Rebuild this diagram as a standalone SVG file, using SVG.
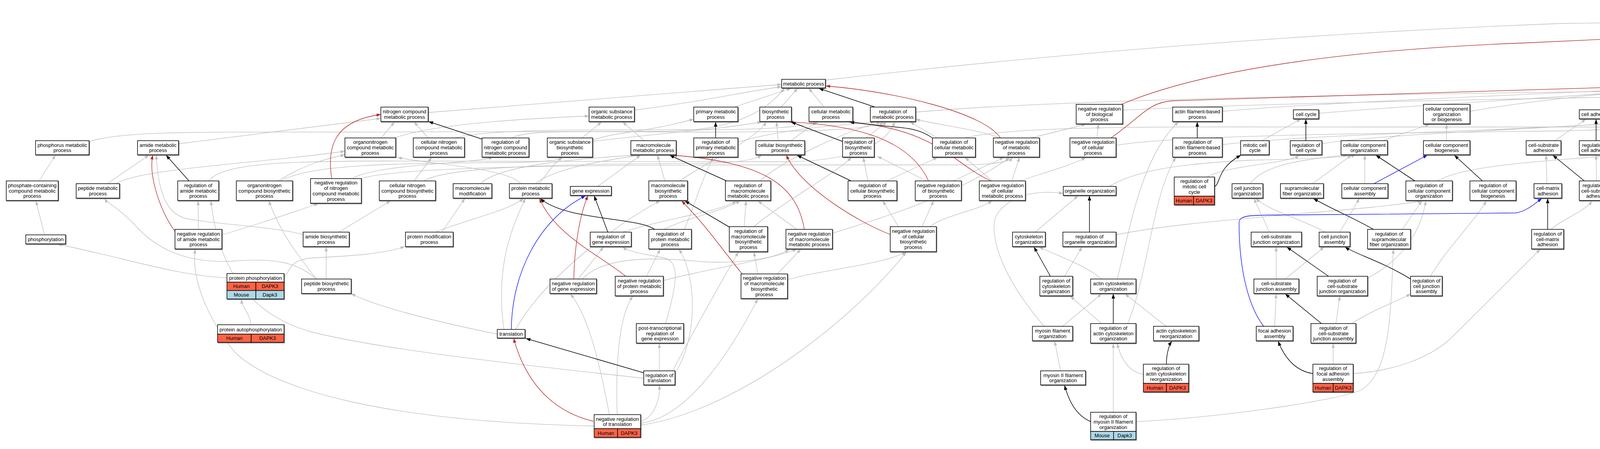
<svg xmlns="http://www.w3.org/2000/svg" width="7383" height="1149" viewBox="0 0 7383 1149">
<style>
.n rect{fill:#fff;stroke:#000;stroke-width:1.5;filter:url(#sh)}
.n rect.hu{fill:#FF6347}
.n rect.mo{fill:#ADD8E6}
.n rect.ra{fill:#FFD700}
text{font-family:"Liberation Sans",Arial,Helvetica,sans-serif;font-size:13px;text-anchor:middle;fill:#000}
#E path{fill:none;stroke-width:1.3}
#E .e{stroke:#BEBEBE;marker-end:url(#mg)}
#E .k{stroke:#000;stroke-width:1.5;marker-end:url(#mk)}
#E .r{stroke:#B22222;marker-end:url(#mr)}
#E .g{stroke:#228B22;marker-end:url(#mn)}
#E .b{stroke:#0000FF;marker-end:url(#mb)}
</style>
<defs>
<filter id="sh" x="-10%" y="-10%" width="125%" height="140%"><feDropShadow dx="1.2" dy="1.6" stdDeviation="0.4" flood-color="#555" flood-opacity="0.9"/></filter>
<marker id="mg" viewBox="0 0 11 8" refX="11" refY="4" markerWidth="11" markerHeight="8" markerUnits="userSpaceOnUse" orient="auto"><path d="M0,0L11,4L0,8z" fill="#BEBEBE"/></marker>
<marker id="mk" viewBox="0 0 11 8" refX="11" refY="4" markerWidth="12" markerHeight="9" markerUnits="userSpaceOnUse" orient="auto"><path d="M0,0L11,4L0,8z" fill="#000"/></marker>
<marker id="mr" viewBox="0 0 11 8" refX="11" refY="4" markerWidth="11" markerHeight="8" markerUnits="userSpaceOnUse" orient="auto"><path d="M0,0L11,4L0,8z" fill="#B22222"/></marker>
<marker id="mn" viewBox="0 0 11 8" refX="11" refY="4" markerWidth="11" markerHeight="8" markerUnits="userSpaceOnUse" orient="auto"><path d="M0,0L11,4L0,8z" fill="#228B22"/></marker>
<marker id="mb" viewBox="0 0 11 8" refX="11" refY="4" markerWidth="11" markerHeight="8" markerUnits="userSpaceOnUse" orient="auto"><path d="M0,0L11,4L0,8z" fill="#0000FF"/></marker>
</defs>
<rect x="0" y="0" width="7383" height="1149" fill="#fff"/>
<g id="E">
<path class="e" d="M1096,288 L2001,216"/>
<path class="e" d="M228,362 C320,335 500,338 900,338 L1700,336 C1850,335 1950,300 2008,226"/>
<path class="e" d="M457,368 L975,303"/>
<path class="e" d="M976,353 L1010,312"/>
<path class="e" d="M1010,353 C1100,320 1300,305 1508,297"/>
<path class="e" d="M1096,353 L1060,312"/>
<path class="e" d="M1165,353 C1250,330 1500,332 1800,332 C1950,332 2060,325 2095,312"/>
<path class="e" d="M1310,353 C1350,330 1500,338 1800,338 C2100,338 2240,330 2262,312"/>
<path class="e" d="M100,463 L142,397"/>
<path class="e" d="M275,470 L381,397"/>
<path class="e" d="M297,470 C360,430 700,415 883,387"/>
<path class="e" d="M534,463 C570,420 700,412 1000,412 L2000,414 C2200,414 2275,360 2290,312"/>
<path class="e" d="M712,463 C780,420 840,405 883,396"/>
<path class="e" d="M717,463 C800,420 1000,418 1300,416 C1400,415 1430,410 1440,403"/>
<path class="e" d="M902,457 C960,420 1200,420 1262,403"/>
<path class="e" d="M915,460 C1000,425 1500,422 2000,422 L2450,422 C2560,422 2585,412 2592,403"/>
<path class="e" d="M1060,463 L1105,403"/>
<path class="e" d="M1085,463 C1150,422 1500,420 1800,418 C1900,417 1935,407 1950,397"/>
<path class="e" d="M1230,470 C1280,420 1500,405 1625,397"/>
<path class="e" d="M114,601 L92,514"/>
<path class="e" d="M508,587 L507,514"/>
<path class="e" d="M568,601 C640,580 700,560 815,521"/>
<path class="e" d="M776,600 C700,580 560,575 480,560 C430,550 405,500 400,397"/>
<path class="e" d="M867,594 L1000,514"/>
<path class="e" d="M810,714 C760,650 720,600 688,514"/>
<path class="e" d="M810,714 C760,670 700,660 600,668 C480,675 400,640 340,570 C300,530 275,520 268,508"/>
<path class="e" d="M1131,594 L1190,508"/>
<path class="e" d="M1115,594 C1200,560 1300,540 1340,508"/>
<path class="e" d="M581,711 C450,705 320,660 148,625"/>
<path class="e" d="M727,710 C745,690 740,665 800,660 C900,655 980,650 1036,631"/>
<path class="e" d="M835,714 L835,632"/>
<path class="e" d="M642,831 C640,800 620,790 618,766"/>
<path class="e" d="M1623,282 C1800,260 1900,235 2001,222"/>
<path class="e" d="M1880,274 L2025,226"/>
<path class="e" d="M2000,274 L2042,226"/>
<path class="e" d="M2110,274 L2070,226"/>
<path class="e" d="M1490,353 L1540,312"/>
<path class="e" d="M1515,362 C1700,340 1850,330 1950,312"/>
<path class="e" d="M1649,360 L1594,312"/>
<path class="e" d="M1992,360 L1988,312"/>
<path class="e" d="M2025,360 L2090,312"/>
<path class="e" d="M1889,364 C2000,330 2150,320 2240,312"/>
<path class="e" d="M2217,353 L2270,312"/>
<path class="e" d="M2400,353 L2330,312"/>
<path class="e" d="M2344,287 C2700,255 3500,240 4500,230 L5519,217"/>
<path class="e" d="M2470,353 C2600,320 3000,325 3500,325 L4100,325 C4160,325 4180,318 4190,312"/>
<path class="e" d="M1370,470 C1420,430 1550,410 1640,397"/>
<path class="e" d="M1333,470 C1300,430 1100,420 1018,403"/>
<path class="e" d="M1380,470 C1420,420 1450,360 1600,340 C1700,325 1740,315 1776,305"/>
<path class="e" d="M1530,477 L1640,397"/>
<path class="e" d="M1702,463 L1683,397"/>
<path class="e" d="M1740,463 C1800,420 1930,360 1962,312"/>
<path class="e" d="M1946,463 C2000,410 2180,330 2255,312"/>
<path class="e" d="M2222,463 L2210,403"/>
<path class="e" d="M2270,463 L2400,403"/>
<path class="e" d="M2372,463 L2246,400"/>
<path class="e" d="M2440,463 L2570,403"/>
<path class="e" d="M1594,594 C1700,560 1850,540 1885,514"/>
<path class="e" d="M1700,587 C1750,560 1850,540 1895,514"/>
<path class="e" d="M1752,587 C1780,520 1800,450 1826,403"/>
<path class="e" d="M1905,580 L1910,514"/>
<path class="e" d="M1930,580 C2000,520 2130,450 2180,403"/>
<path class="e" d="M2040,587 L1940,514"/>
<path class="e" d="M2131,597 C2250,560 2450,500 2585,403"/>
<path class="e" d="M2300,580 L2260,514"/>
<path class="e" d="M2360,580 L2390,514"/>
<path class="e" d="M2380,580 C2420,550 2500,540 2540,514"/>
<path class="e" d="M1480,714 L1545,632"/>
<path class="e" d="M1491,714 C1550,650 1700,660 1800,670 C1900,675 1990,660 2020,638"/>
<path class="e" d="M1655,707 L1690,638"/>
<path class="e" d="M1698,718 C1800,690 1950,670 2040,638"/>
<path class="e" d="M1940,701 L1930,645"/>
<path class="e" d="M1990,701 L2050,638"/>
<path class="e" d="M2016,716 C2100,690 2250,680 2320,645"/>
<path class="e" d="M1704,828 C1735,720 1740,670 1700,660 C1650,650 1610,645 1594,632"/>
<path class="e" d="M1688,949 L1688,879"/>
<path class="e" d="M1648,968 C1400,940 1000,900 800,850 C650,810 560,700 540,514"/>
<path class="e" d="M1732,949 C1790,850 1780,700 1738,638"/>
<path class="e" d="M1722,949 C1800,800 1860,700 1890,645"/>
<path class="e" d="M1640,1078 C1670,1070 1690,1030 1688,986"/>
<path class="e" d="M1560,1061 C1530,900 1500,800 1460,752"/>
<path class="e" d="M1580,1061 C1575,900 1590,800 1620,758"/>
<path class="e" d="M1640,1083 C1760,1070 1870,900 1940,765"/>
<path class="e" d="M1640,1088 C1900,1050 2200,800 2320,645"/>
<path class="e" d="M1521,1090 C1000,1080 700,1000 600,900 C520,800 490,700 500,638"/>
<path class="e" d="M1273,855 C1100,820 950,780 899,751"/>
<path class="e" d="M1290,843 C1270,700 1300,600 1345,508"/>
<path class="e" d="M1320,843 C1400,700 1600,560 1690,514"/>
<path class="e" d="M2874,282 C3300,260 4200,248 5519,223"/>
<path class="e" d="M2560,353 C2500,330 2400,320 2344,305"/>
<path class="e" d="M2640,353 L2780,318"/>
<path class="e" d="M2808,353 L2812,318"/>
<path class="e" d="M2857,372 C3000,345 3600,340 4000,335 C4150,332 4200,325 4210,312"/>
<path class="e" d="M2590,463 L2610,403"/>
<path class="e" d="M2610,463 C2680,440 2750,420 2780,403"/>
<path class="e" d="M2540,463 L2470,403"/>
<path class="e" d="M3129,285 C3400,260 4000,240 4305,222"/>
<path class="e" d="M3129,370 C3400,340 3900,335 4180,312"/>
<path class="e" d="M3376,290 C3600,270 4000,250 4310,224"/>
<path class="e" d="M3230,360 L3330,305"/>
<path class="e" d="M3384,368 C3500,345 3950,330 4185,312"/>
<path class="e" d="M3090,453 C3150,420 3300,420 3325,397"/>
<path class="e" d="M3763,285 C3900,260 4100,240 4305,222"/>
<path class="e" d="M3540,360 L3660,318"/>
<path class="e" d="M3703,360 L3703,318"/>
<path class="e" d="M2840,477 C2900,440 3000,420 3200,410 C3400,405 3460,400 3470,397"/>
<path class="e" d="M3200,470 C3230,430 3300,410 3450,397"/>
<path class="e" d="M3360,470 L3460,397"/>
<path class="e" d="M3494,470 L3494,397"/>
<path class="e" d="M3680,463 C3750,420 4000,410 4100,400 C4180,390 4200,350 4205,312"/>
<path class="e" d="M2650,594 L2760,501"/>
<path class="e" d="M2857,601 C3050,560 3500,540 3640,514"/>
<path class="e" d="M3250,594 L3210,508"/>
<path class="e" d="M3393,594 C3330,560 3250,540 3215,508"/>
<path class="e" d="M3430,594 L3480,508"/>
<path class="e" d="M3590,587 L3640,514"/>
<path class="e" d="M2725,707 L2770,632"/>
<path class="e" d="M2820,714 C2780,680 2720,660 2660,632"/>
<path class="e" d="M2860,714 C2890,600 2920,400 3017,312"/>
<path class="e" d="M3267,714 L3267,632"/>
<path class="e" d="M3290,714 L3390,632"/>
<path class="e" d="M3501,712 C3600,660 3640,580 3650,514"/>
<path class="e" d="M3662,707 C3700,640 3780,560 3805,514"/>
<path class="e" d="M2720,835 L2820,752"/>
<path class="e" d="M2673,835 C2600,750 2540,650 2545,570 C2550,530 2610,480 2722,495"/>
<path class="e" d="M2820,828 L2740,758"/>
<path class="e" d="M2887,828 C2940,700 2950,500 3010,403"/>
<path class="e" d="M2985,835 L2880,752"/>
<path class="e" d="M3263,835 L3267,752"/>
<path class="e" d="M3420,828 L3430,758"/>
<path class="e" d="M3460,828 C3520,790 3580,770 3611,752"/>
<path class="e" d="M2715,949 L2700,873"/>
<path class="e" d="M2927,958 C2880,950 2865,900 2860,879"/>
<path class="e" d="M3413,932 L3413,879"/>
<path class="e" d="M3464,956 C3560,950 3660,920 3720,860 C3820,760 3900,680 3943,638"/>
<path class="e" d="M2850,1055 L2850,879"/>
<path class="e" d="M2908,1079 C3100,1070 3400,1030 3480,1000 C3560,960 3560,800 3567,638"/>
<path class="e" d="M4109,281 L4300,226"/>
<path class="e" d="M4276,282 C4700,265 5200,250 5519,225"/>
<path class="e" d="M4356,281 L4356,226"/>
<path class="e" d="M4625,281 C4550,250 4450,235 4407,222"/>
<path class="e" d="M4698,288 C4850,265 5000,235 5072,220"/>
<path class="e" d="M3980,360 L4060,305"/>
<path class="e" d="M4115,360 L4190,312"/>
<path class="e" d="M4250,360 L4235,312"/>
<path class="e" d="M4430,360 L4370,305"/>
<path class="e" d="M4610,366 L4650,305"/>
<path class="e" d="M4700,360 C4500,330 4350,320 4270,312"/>
<path class="e" d="M4770,370 C4900,340 5000,320 5068,305"/>
<path class="e" d="M4866,362 C4700,335 4400,318 4265,312"/>
<path class="e" d="M4981,360 C5150,340 5300,330 5413,310"/>
<path class="e" d="M3960,470 L3958,397"/>
<path class="e" d="M4087,463 L4086,397"/>
<path class="e" d="M4240,470 L4260,397"/>
<path class="e" d="M4253,470 C4350,410 4700,410 4866,395"/>
<path class="e" d="M4360,463 L4290,397"/>
<path class="e" d="M4532,464 C4520,450 4500,430 4481,397"/>
<path class="e" d="M4790,470 L4745,397"/>
<path class="e" d="M4890,470 L4780,397"/>
<path class="e" d="M4997,480 C5100,450 5150,420 5200,397"/>
<path class="e" d="M4935,470 L4930,403"/>
<path class="e" d="M3970,587 C4000,560 4060,540 4075,514"/>
<path class="e" d="M4390,587 L4389,514"/>
<path class="e" d="M4350,587 C4300,560 4250,540 4240,508"/>
<path class="e" d="M4536,594 L4430,514"/>
<path class="e" d="M4836,600 C4900,560 5200,450 5300,420 C5380,400 5420,395 5440,390"/>
<path class="e" d="M4900,584 C4870,550 4830,530 4810,508"/>
<path class="e" d="M4939,584 L4939,508"/>
<path class="e" d="M4599,686 C4600,660 4590,645 4580,632"/>
<path class="e" d="M4541,710 C4480,700 4440,680 4420,638"/>
<path class="e" d="M4800,707 C4720,660 4650,640 4610,632"/>
<path class="e" d="M4900,707 C5000,660 5300,560 5590,508"/>
<path class="e" d="M4830,828 L4850,758"/>
<path class="e" d="M4772,848 C4680,830 4600,820 4575,780"/>
<path class="e" d="M4876,828 C4950,760 5100,690 5300,660 C5500,640 5600,625 5647,620"/>
<path class="e" d="M5046,714 C4990,690 4900,675 4830,642"/>
<path class="e" d="M5394,707 C5430,640 5470,500 5471,390"/>
<path class="e" d="M5193,822 L5122,752"/>
<path class="e" d="M5270,822 L5342,758"/>
<path class="e" d="M4963,828 C4940,800 4910,780 4890,758"/>
<path class="e" d="M4980,936 L4985,879"/>
<path class="e" d="M4930,936 C4900,910 4880,900 4864,880"/>
<path class="e" d="M5090,929 C5070,900 5040,890 5027,880"/>
<path class="e" d="M5140,1041 L5140,1007"/>
<path class="e" d="M5077,1078 C5010,1070 4995,1040 4995,999"/>
<path class="e" d="M5675,104 L5645,49"/>
<path class="e" d="M5840,110 C5800,80 5720,60 5689,47"/>
<path class="e" d="M5134,203 L5567,45"/>
<path class="e" d="M2113,205 C2500,160 3200,90 4000,60 L5570,37"/>
<path class="e" d="M4406,203 L5568,45"/>
<path class="e" d="M5633,202 C5700,180 5800,150 5830,134"/>
<path class="e" d="M5149,286 C5300,240 5420,225 5519,220"/>
<path class="e" d="M5220,281 C5000,255 4600,235 4407,224"/>
<path class="e" d="M5510,267 L5550,233"/>
<path class="e" d="M5644,281 L5598,233"/>
<path class="e" d="M5830,274 C5950,200 6100,160 6451,128"/>
<path class="e" d="M5750,274 C5600,245 5000,232 4407,225"/>
<path class="e" d="M5988,274 C6060,220 6200,180 6400,170 C6550,165 6650,150 6690,141"/>
<path class="e" d="M5930,274 C5700,250 5000,235 4407,220"/>
<path class="e" d="M6069,282 C5900,250 5750,230 5634,220"/>
<path class="e" d="M5040,360 C4800,330 4450,318 4276,308"/>
<path class="e" d="M5230,360 L5135,312"/>
<path class="e" d="M5290,360 L5420,318"/>
<path class="e" d="M5650,360 C5630,300 5600,260 5586,233"/>
<path class="e" d="M5830,366 C5760,340 5700,320 5680,305"/>
<path class="e" d="M5810,366 C5600,340 5400,320 5317,300"/>
<path class="e" d="M6110,353 L6110,318"/>
<path class="e" d="M6056,370 C5800,340 5600,330 5528,310"/>
<path class="e" d="M5100,470 L5090,397"/>
<path class="e" d="M5044,480 C4990,460 4960,430 4950,403"/>
<path class="e" d="M5429,438 C5440,420 5450,400 5460,390"/>
<path class="e" d="M5640,470 L5660,397"/>
<path class="e" d="M5560,470 C5450,430 5250,420 5149,397"/>
<path class="e" d="M5740,463 C5650,420 5560,410 5525,389"/>
<path class="e" d="M5890,470 L5700,397"/>
<path class="e" d="M5867,478 C5700,440 5600,360 5520,318"/>
<path class="e" d="M5680,594 L5620,508"/>
<path class="e" d="M5760,594 L5900,508"/>
<path class="e" d="M5647,602 C5450,560 5250,540 5170,508"/>
<path class="e" d="M5781,605 C5950,560 6050,450 6090,403"/>
<path class="e" d="M5910,574 L5800,514"/>
<path class="e" d="M6106,594 C6080,500 5960,420 5905,390"/>
<path class="e" d="M5830,714 L5893,652"/>
<path class="e" d="M5643,835 C5700,780 5760,760 5778,752"/>
<path class="e" d="M5735,828 C5690,720 5620,600 5618,508"/>
<path class="e" d="M5720,942 L5740,879"/>
<path class="e" d="M5840,942 L5785,879"/>
<path class="e" d="M5877,942 C5910,800 5920,700 5870,660 C5840,640 5810,635 5790,631"/>
<path class="e" d="M5706,1048 L5706,993"/>
<path class="e" d="M5765,1078 C5830,1070 5860,1030 5860,993"/>
<path class="e" d="M6455,118 C6200,85 5900,55 5690,40"/>
<path class="e" d="M6676,110 C6400,70 6000,45 5690,35"/>
<path class="e" d="M6935,100 C6700,60 6200,40 5690,32"/>
<path class="e" d="M7200,104 C7000,50 6400,40 5690,30"/>
<path class="e" d="M6287,207 C6100,170 5980,145 5920,133"/>
<path class="e" d="M6502,196 L6502,141"/>
<path class="e" d="M6800,196 L6735,141"/>
<path class="e" d="M6920,205 C6850,180 6780,160 6754,141"/>
<path class="e" d="M7060,205 C6950,170 6800,150 6756,136"/>
<path class="e" d="M7260,203 L7240,141"/>
<path class="e" d="M7237,210 C7100,180 6900,160 6756,132"/>
<path class="e" d="M6360,274 L6460,233"/>
<path class="e" d="M6247,282 C6050,230 5850,200 5723,141"/>
<path class="e" d="M6536,280 C6300,250 5900,230 5633,224"/>
<path class="e" d="M6720,274 C6660,200 6580,160 6538,141"/>
<path class="e" d="M6871,276 C6800,255 6736,222 6712,141"/>
<path class="e" d="M6995,272 C6960,250 6900,240 6878,232"/>
<path class="e" d="M7040,267 L7000,233"/>
<path class="e" d="M7262,281 L7143,232"/>
<path class="e" d="M6380,366 C6450,330 6480,280 6483,233"/>
<path class="e" d="M6595,353 L6590,318"/>
<path class="e" d="M6760,366 L6750,312"/>
<path class="e" d="M6708,377 C6500,345 6100,335 5869,306"/>
<path class="e" d="M6930,353 L6920,312"/>
<path class="e" d="M6878,360 C6700,336 6300,332 6024,306"/>
<path class="e" d="M7060,360 L6940,312"/>
<path class="e" d="M7200,360 L7080,318"/>
<path class="e" d="M7226,360 C7210,250 7150,170 7062,150"/>
<path class="e" d="M6198,477 C6120,430 5950,350 5860,312"/>
<path class="e" d="M6385,470 L6375,390"/>
<path class="e" d="M6598,470 L6598,403"/>
<path class="e" d="M6960,470 L6940,403"/>
<path class="e" d="M6990,470 L7070,397"/>
<path class="e" d="M7120,470 L7110,397"/>
<path class="e" d="M7260,470 L7245,397"/>
<path class="e" d="M7282,470 C7315,390 7310,340 7301,305"/>
<path class="e" d="M6317,601 L6248,501"/>
<path class="e" d="M6327,714 L6327,625"/>
<path class="e" d="M6277,831 C6262,791 6242,681 6236,501"/>
<path class="e" d="M6542,584 L6542,508"/>
<path class="e" d="M7080,587 L7110,508"/>
<path class="e" d="M7040,587 L7010,508"/>
<path class="e" d="M7297,594 C7340,480 7350,300 7329,226"/>
<path class="e" d="M7266,594 L7266,508"/>
<path class="e" d="M7143,714 C7140,650 7130,560 7125,508"/>
<path class="e" d="M7092,815 C7060,791 7045,700 7041,638"/>
<path class="e" d="M7095,814 C7100,780 7110,770 7120,752"/>
<path class="r" d="M849,457 C838,380 850,310 975,293"/>
<path class="r" d="M448,592 C410,540 380,450 391,397"/>
<path class="r" d="M2561,353 C2520,290 2300,235 2114,220"/>
<path class="r" d="M2377,463 C2330,360 2200,320 2020,312"/>
<path class="r" d="M2537,463 C2440,420 2400,330 2172,312"/>
<path class="r" d="M2059,587 C2040,470 1950,415 1722,397"/>
<path class="r" d="M2279,600 C2200,570 2050,480 2013,397"/>
<path class="r" d="M1602,707 C1530,650 1420,600 1381,508"/>
<path class="r" d="M1469,714 C1470,650 1480,560 1505,501"/>
<path class="r" d="M1900,701 C1850,640 1810,580 1745,514"/>
<path class="r" d="M1519,1078 C1400,1050 1340,960 1315,866"/>
<path class="r" d="M2871,267 C3100,170 3500,125 3900,110 L5570,33"/>
<path class="r" d="M2844,353 C2920,300 2940,262 3000,258 L4305,218"/>
<path class="k" d="M1234,356 L1097,311"/>
<path class="k" d="M484,463 L425,397"/>
<path class="k" d="M2240,274 L2096,226"/>
<path class="k" d="M1832,353 L1832,312"/>
<path class="k" d="M2157,362 L2025,312"/>
<path class="k" d="M2387,353 C2340,320 2300,330 2175,312"/>
<path class="k" d="M1860,463 L1714,397"/>
<path class="k" d="M2179,463 L2040,397"/>
<path class="k" d="M1676,587 C1630,555 1450,565 1383,508"/>
<path class="k" d="M1556,594 L1521,501"/>
<path class="k" d="M1867,581 L1753,514"/>
<path class="k" d="M1648,954 L1346,866"/>
<path class="k" d="M3065,353 L3065,312"/>
<path class="k" d="M3343,360 L3343,305"/>
<path class="k" d="M3109,478 C3125,470 3115,430 3177,397"/>
<path class="k" d="M3622,463 L3522,397"/>
<path class="k" d="M2789,594 L2789,501"/>
<path class="k" d="M3516,587 C3470,560 3420,540 3362,508"/>
<path class="k" d="M2689,707 L2647,632"/>
<path class="k" d="M2850,828 L2850,752"/>
<path class="k" d="M2986,932 C2986,900 2995,880 3000,873"/>
<path class="k" d="M2792,1079 C2750,1060 2735,1020 2725,986"/>
<path class="k" d="M3401,707 L3294,632"/>
<path class="k" d="M3611,714 C3540,670 3470,650 3443,632"/>
<path class="k" d="M3383,828 L3290,752"/>
<path class="k" d="M3361,956 C3320,950 3290,920 3272,873"/>
<path class="k" d="M4256,274 L4338,226"/>
<path class="k" d="M4086,360 L4086,305"/>
<path class="k" d="M4287,360 L4345,305"/>
<path class="k" d="M4715,360 L4671,305"/>
<path class="k" d="M3795,463 L3723,397"/>
<path class="k" d="M4056,463 L3975,397"/>
<path class="k" d="M3962,587 L3962,508"/>
<path class="k" d="M4406,463 L4444,397"/>
<path class="k" d="M4562,594 L4563,523"/>
<path class="k" d="M4773,470 C4740,430 4700,420 4632,390"/>
<path class="k" d="M4813,707 C4790,680 4760,660 4750,642"/>
<path class="k" d="M5577,196 C5580,120 5590,80 5616,48"/>
<path class="k" d="M5109,274 L5109,226"/>
<path class="k" d="M5124,360 L5232,305"/>
<path class="k" d="M5661,360 L5655,305"/>
<path class="k" d="M5583,470 L5483,390"/>
<path class="k" d="M6118,267 C6140,190 6170,175 6341,169 C6500,165 6600,160 6673,139"/>
<path class="k" d="M5015,828 L5078,752"/>
<path class="k" d="M5173,930 L5205,886"/>
<path class="k" d="M5771,828 L5802,752"/>
<path class="k" d="M5686,942 L5629,873"/>
<path class="k" d="M6592,267 C6600,200 6580,170 6546,141"/>
<path class="k" d="M6641,353 L6711,312"/>
<path class="k" d="M6627,470 L6752,390"/>
<path class="g" d="M4892,353 C4800,280 4600,230 4407,217"/>
<path class="g" d="M4263,470 C4300,420 4350,360 4354,305"/>
<path class="g" d="M4916,470 C4880,420 4830,340 4702,305"/>
<path class="g" d="M4429,587 C4450,540 4470,450 4465,397"/>
<path class="g" d="M4599,686 C4640,660 4650,620 4639,580 C4630,550 4590,545 4585,523"/>
<path class="g" d="M4881,602 C4800,590 4720,580 4690,520 C4670,460 4650,410 4628,390"/>
<path class="g" d="M4803,828 C4780,780 4740,700 4744,642"/>
<path class="g" d="M5037,936 C5080,900 5100,820 5100,752"/>
<path class="g" d="M5205,1078 C5260,1070 5260,960 5243,886"/>
<path class="g" d="M5860,942 L5816,752"/>
<path class="g" d="M5648,1078 C5610,1070 5605,950 5608,873"/>
<path class="g" d="M5474,267 C5480,180 5550,100 5602,48"/>
<path class="g" d="M5209,360 C5180,345 5130,350 5100,340 C5060,310 5060,250 5078,226"/>
<path class="g" d="M5139,470 C5200,440 5300,430 5340,390 C5350,340 5300,320 5288,305"/>
<path class="g" d="M5647,611 C5550,600 5400,590 5370,560 C5350,520 5380,430 5426,390"/>
<path class="g" d="M5901,470 C5830,425 5750,330 5679,305"/>
<path class="g" d="M6145,353 C6170,280 6180,190 6300,172 C6450,165 6600,165 6673,139"/>
<path class="b" d="M1309,843 C1310,700 1380,560 1499,501"/>
<path class="b" d="M3517,470 L3654,397"/>
<path class="b" d="M3235,835 C3200,790 3172,700 3172,570 C3172,550 3200,550 3300,550 L3880,545 C3910,540 3930,520 3947,508"/>
<path class="b" d="M4717,601 C4695,595 4695,565 4670,557 C4620,550 4575,550 4569,523"/>
<path class="b" d="M5438,366 L5297,305"/>
<path class="b" d="M5491,366 L5624,305"/>
<path class="b" d="M5505,366 C5600,340 5700,338 5800,336 C5880,333 5910,325 5926,312"/>
<path class="b" d="M5984,574 C6010,500 5980,420 5913,385"/>
<path class="b" d="M5855,715 L6067,632"/>
<path class="b" d="M6690,274 L6560,233"/>
<path class="b" d="M6366,366 L6331,312"/>
<path class="b" d="M6333,601 L6379,508"/>
<path class="b" d="M6280,831 C6280,800 6300,770 6309,752"/>
<path class="b" d="M7163,714 L7246,632"/>
</g>
<g id="bp" class="n"><rect x="5570" y="12" width="119" height="36"/><text y="27.6"><tspan x="5629.5">Biological Process</tspan><tspan x="5629.5" dy="13.8">Dapk3</tspan></text></g>
<g id="mop" class="n"><rect x="5624" y="104" width="122" height="36"/><text y="119.6"><tspan x="5685">multicellular</tspan><tspan x="5685" dy="13.8">organismal process</tspan></text></g>
<g id="breg" class="n"><rect x="5793" y="110" width="124" height="23"/><text x="5855" y="126">biological regulation</text></g>
<g id="devp" class="n"><rect x="6455" y="104" width="95" height="36"/><text y="119.6"><tspan x="6502.5">developmental</tspan><tspan x="6502.5" dy="13.8">process</tspan></text></g>
<g id="rts" class="n"><rect x="6676" y="104" width="78" height="36"/><text y="119.6"><tspan x="6715">response to</tspan><tspan x="6715" dy="13.8">stimulus</tspan></text></g>
<g id="bpii" class="n"><rect x="6935" y="84" width="124" height="76"/><text y="98.9"><tspan x="6997">biological process</tspan><tspan x="6997" dy="13.8">involved in</tspan><tspan x="6997" dy="13.8">interspecies</tspan><tspan x="6997" dy="13.8">interaction</tspan><tspan x="6997" dy="13.8">between organisms</tspan></text></g>
<g id="isp" class="n"><rect x="7173" y="104" width="103" height="36"/><text y="119.6"><tspan x="7224.5">immune system</tspan><tspan x="7224.5" dy="13.8">process</tspan></text></g>
<g id="met" class="n"><rect x="2001" y="203" width="112" height="22"/><text x="2057" y="218.5">metabolic process</text></g>
<g id="cp" class="n"><rect x="4305" y="203" width="102" height="22"/><text x="4356" y="218.5">cellular process</text></g>
<g id="loc" class="n"><rect x="5072" y="203" width="73" height="22"/><text x="5108.5" y="218.5">locomotion</text></g>
<g id="rbp" class="n"><rect x="5519" y="196" width="114" height="36"/><text y="211.6"><tspan x="5576">regulation of</tspan><tspan x="5576" dy="13.8">biological process</tspan></text></g>
<g id="rbq" class="n"><rect x="6287" y="196" width="106" height="36"/><text y="211.6"><tspan x="6340">regulation of</tspan><tspan x="6340" dy="13.8">biological quality</tspan></text></g>
<g id="asd" class="n"><rect x="6439" y="196" width="127" height="36"/><text y="211.6"><tspan x="6502.5">anatomical structure</tspan><tspan x="6502.5" dy="13.8">development</tspan></text></g>
<g id="rext" class="n"><rect x="6765" y="196" width="108" height="36"/><text y="211.6"><tspan x="6819">response to</tspan><tspan x="6819" dy="13.8">external stimulus</tspan></text></g>
<g id="rbio" class="n"><rect x="6920" y="196" width="95" height="36"/><text y="211.6"><tspan x="6967.5">response to</tspan><tspan x="6967.5" dy="13.8">biotic stimulus</tspan></text></g>
<g id="rstress" class="n"><rect x="7060" y="196" width="78" height="36"/><text y="211.6"><tspan x="7099">response to</tspan><tspan x="7099" dy="13.8">stress</tspan></text></g>
<g id="imr" class="n"><rect x="7237" y="203" width="112" height="22"/><text x="7293" y="218.5">immune response</text></g>
<g id="ncmp" class="n"><rect x="975" y="274" width="121" height="37"/><text y="290.1"><tspan x="1035.5">nitrogen compound</tspan><tspan x="1035.5" dy="13.8">metabolic process</tspan></text></g>
<g id="osmp" class="n"><rect x="1508" y="274" width="116" height="37"/><text y="290.1"><tspan x="1566">organic substance</tspan><tspan x="1566" dy="13.8">metabolic process</tspan></text></g>
<g id="pmp" class="n"><rect x="1776" y="274" width="113" height="37"/><text y="290.1"><tspan x="1832.5">primary metabolic</tspan><tspan x="1832.5" dy="13.8">process</tspan></text></g>
<g id="bsp" class="n"><rect x="1945" y="274" width="81" height="37"/><text y="290.1"><tspan x="1985.5">biosynthetic</tspan><tspan x="1985.5" dy="13.8">process</tspan></text></g>
<g id="cmp" class="n"><rect x="2071" y="274" width="112" height="37"/><text y="290.1"><tspan x="2127">cellular metabolic</tspan><tspan x="2127" dy="13.8">process</tspan></text></g>
<g id="rmp" class="n"><rect x="2228" y="274" width="116" height="37"/><text y="290.1"><tspan x="2286">regulation of</tspan><tspan x="2286" dy="13.8">metabolic process</tspan></text></g>
<g id="nrbp" class="n"><rect x="2755" y="267" width="119" height="50"/><text y="282.7"><tspan x="2814.5">negative regulation</tspan><tspan x="2814.5" dy="13.8">of biological</tspan><tspan x="2814.5" dy="13.8">process</tspan></text></g>
<g id="afbp" class="n"><rect x="3002" y="274" width="127" height="37"/><text y="290.1"><tspan x="3065.5">actin filament-based</tspan><tspan x="3065.5" dy="13.8">process</tspan></text></g>
<g id="cc" class="n"><rect x="3311" y="281" width="65" height="23"/><text x="3343.5" y="297">cell cycle</text></g>
<g id="ccob" class="n"><rect x="3644" y="267" width="119" height="50"/><text y="282.7"><tspan x="3703.5">cellular component</tspan><tspan x="3703.5" dy="13.8">organization</tspan><tspan x="3703.5" dy="13.8">or biogenesis</tspan></text></g>
<g id="cad" class="n"><rect x="4043" y="281" width="86" height="23"/><text x="4086" y="297">cell adhesion</text></g>
<g id="rcp" class="n"><rect x="4175" y="274" width="101" height="37"/><text y="290.1"><tspan x="4225.5">regulation of</tspan><tspan x="4225.5" dy="13.8">cellular process</tspan></text></g>
<g id="cd" class="n"><rect x="4323" y="281" width="66" height="23"/><text x="4356" y="297">cell death</text></g>
<g id="cmot" class="n"><rect x="4622" y="281" width="76" height="23"/><text x="4660" y="297">cell motility</text></g>
<g id="rloc" class="n"><rect x="5068" y="274" width="81" height="37"/><text y="290.1"><tspan x="5108.5">regulation of</tspan><tspan x="5108.5" dy="13.8">locomotion</tspan></text></g>
<g id="ccom" class="n"><rect x="5194" y="281" width="123" height="23"/><text x="5255.5" y="297">cell communication</text></g>
<g id="prbp" class="n"><rect x="5413" y="267" width="115" height="50"/><text y="282.7"><tspan x="5470.5">positive regulation</tspan><tspan x="5470.5" dy="13.8">of biological</tspan><tspan x="5470.5" dy="13.8">process</tspan></text></g>
<g id="sig" class="n"><rect x="5624" y="281" width="61" height="23"/><text x="5654.5" y="297">signaling</text></g>
<g id="cdp" class="n"><rect x="5731" y="274" width="138" height="37"/><text y="290.1"><tspan x="5800">cellular developmental</tspan><tspan x="5800" dy="13.8">process</tspan></text></g>
<g id="crs" class="n"><rect x="5916" y="274" width="108" height="37"/><text y="290.1"><tspan x="5970">cellular response</tspan><tspan x="5970" dy="13.8">to stimulus</tspan></text></g>
<g id="rrs" class="n"><rect x="6069" y="267" width="82" height="50"/><text y="282.7"><tspan x="6110">regulation of</tspan><tspan x="6110" dy="13.8">response to</tspan><tspan x="6110" dy="13.8">stimulus</tspan></text></g>
<g id="mod" class="n"><rect x="6247" y="274" width="140" height="37"/><text y="290.1"><tspan x="6317">multicellular</tspan><tspan x="6317" dy="13.8">organism development</tspan></text></g>
<g id="rdp" class="n"><rect x="6536" y="267" width="94" height="50"/><text y="282.7"><tspan x="6583">regulation of</tspan><tspan x="6583" dy="13.8">developmental</tspan><tspan x="6583" dy="13.8">process</tspan></text></g>
<g id="asm" class="n"><rect x="6676" y="274" width="127" height="37"/><text y="290.1"><tspan x="6739.5">anatomical structure</tspan><tspan x="6739.5" dy="13.8">morphogenesis</tspan></text></g>
<g id="rchem" class="n"><rect x="6872" y="274" width="78" height="37"/><text y="290.1"><tspan x="6911">response to</tspan><tspan x="6911" dy="13.8">chemical</tspan></text></g>
<g id="rebs" class="n"><rect x="6995" y="267" width="91" height="50"/><text y="282.7"><tspan x="7040.5">response to</tspan><tspan x="7040.5" dy="13.8">external biotic</tspan><tspan x="7040.5" dy="13.8">stimulus</tspan></text></g>
<g id="defr" class="n"><rect x="7237" y="281" width="112" height="23"/><text x="7293" y="297">defense response</text></g>
<g id="phmp" class="n"><rect x="91" y="360" width="137" height="36"/><text y="375.6"><tspan x="159.5">phosphorus metabolic</tspan><tspan x="159.5" dy="13.8">process</tspan></text></g>
<g id="amp" class="n"><rect x="352" y="360" width="105" height="36"/><text y="375.6"><tspan x="404.5">amide metabolic</tspan><tspan x="404.5" dy="13.8">process</tspan></text></g>
<g id="oncmp" class="n"><rect x="883" y="353" width="130" height="49"/><text y="368.2"><tspan x="948">organonitrogen</tspan><tspan x="948" dy="13.8">compound metabolic</tspan><tspan x="948" dy="13.8">process</tspan></text></g>
<g id="cncmp" class="n"><rect x="1058" y="353" width="131" height="49"/><text y="368.2"><tspan x="1123.5">cellular nitrogen</tspan><tspan x="1123.5" dy="13.8">compound metabolic</tspan><tspan x="1123.5" dy="13.8">process</tspan></text></g>
<g id="rncmp" class="n"><rect x="1234" y="353" width="120" height="49"/><text y="368.2"><tspan x="1294">regulation of</tspan><tspan x="1294" dy="13.8">nitrogen compound</tspan><tspan x="1294" dy="13.8">metabolic process</tspan></text></g>
<g id="osbp" class="n"><rect x="1401" y="353" width="116" height="49"/><text y="368.2"><tspan x="1459">organic substance</tspan><tspan x="1459" dy="13.8">biosynthetic</tspan><tspan x="1459" dy="13.8">process</tspan></text></g>
<g id="mmp" class="n"><rect x="1615" y="360" width="116" height="36"/><text y="375.6"><tspan x="1673">macromolecule</tspan><tspan x="1673" dy="13.8">metabolic process</tspan></text></g>
<g id="rpmp" class="n"><rect x="1776" y="353" width="113" height="49"/><text y="368.2"><tspan x="1832.5">regulation of</tspan><tspan x="1832.5" dy="13.8">primary metabolic</tspan><tspan x="1832.5" dy="13.8">process</tspan></text></g>
<g id="cbp" class="n"><rect x="1935" y="360" width="125" height="36"/><text y="375.6"><tspan x="1997.5">cellular biosynthetic</tspan><tspan x="1997.5" dy="13.8">process</tspan></text></g>
<g id="rbsp" class="n"><rect x="2157" y="353" width="81" height="49"/><text y="368.2"><tspan x="2197.5">regulation of</tspan><tspan x="2197.5" dy="13.8">biosynthetic</tspan><tspan x="2197.5" dy="13.8">process</tspan></text></g>
<g id="rcmp" class="n"><rect x="2387" y="353" width="110" height="49"/><text y="368.2"><tspan x="2442">regulation of</tspan><tspan x="2442" dy="13.8">cellular metabolic</tspan><tspan x="2442" dy="13.8">process</tspan></text></g>
<g id="nrmp" class="n"><rect x="2543" y="353" width="118" height="49"/><text y="368.2"><tspan x="2602">negative regulation</tspan><tspan x="2602" dy="13.8">of metabolic</tspan><tspan x="2602" dy="13.8">process</tspan></text></g>
<g id="nrcp" class="n"><rect x="2739" y="353" width="118" height="49"/><text y="368.2"><tspan x="2798">negative regulation</tspan><tspan x="2798" dy="13.8">of cellular</tspan><tspan x="2798" dy="13.8">process</tspan></text></g>
<g id="rafbp" class="n"><rect x="3002" y="353" width="127" height="49"/><text y="368.2"><tspan x="3065.5">regulation of</tspan><tspan x="3065.5" dy="13.8">actin filament-based</tspan><tspan x="3065.5" dy="13.8">process</tspan></text></g>
<g id="mcc" class="n"><rect x="3176" y="360" width="73" height="36"/><text y="375.6"><tspan x="3212.5">mitotic cell</tspan><tspan x="3212.5" dy="13.8">cycle</tspan></text></g>
<g id="rcc" class="n"><rect x="3303" y="360" width="81" height="36"/><text y="375.6"><tspan x="3343.5">regulation of</tspan><tspan x="3343.5" dy="13.8">cell cycle</tspan></text></g>
<g id="cco" class="n"><rect x="3433" y="360" width="119" height="36"/><text y="375.6"><tspan x="3492.5">cellular component</tspan><tspan x="3492.5" dy="13.8">organization</tspan></text></g>
<g id="ccb" class="n"><rect x="3644" y="360" width="119" height="36"/><text y="375.6"><tspan x="3703.5">cellular component</tspan><tspan x="3703.5" dy="13.8">biogenesis</tspan></text></g>
<g id="csa" class="n"><rect x="3907" y="360" width="89" height="36"/><text y="375.6"><tspan x="3951.5">cell-substrate</tspan><tspan x="3951.5" dy="13.8">adhesion</tspan></text></g>
<g id="rcad" class="n"><rect x="4043" y="360" width="86" height="36"/><text y="375.6"><tspan x="4086">regulation of</tspan><tspan x="4086" dy="13.8">cell adhesion</tspan></text></g>
<g id="rcd" class="n"><rect x="4227" y="360" width="81" height="36"/><text y="375.6"><tspan x="4267.5">regulation of</tspan><tspan x="4267.5" dy="13.8">cell death</tspan></text></g>
<g id="pcd" class="n"><rect x="4404" y="360" width="107" height="36"/><text y="375.6"><tspan x="4457.5">programmed cell</tspan><tspan x="4457.5" dy="13.8">death</tspan></text></g>
<g id="cmig" class="n"><rect x="4557" y="366" width="88" height="23"/><text x="4601" y="382">cell migration</text></g>
<g id="rcmot" class="n"><rect x="4690" y="360" width="80" height="36"/><text y="375.6"><tspan x="4730">regulation of</tspan><tspan x="4730" dy="13.8">cell motility</tspan></text></g>
<g id="prcp" class="n"><rect x="4866" y="353" width="115" height="49"/><text y="368.2"><tspan x="4923.5">positive regulation</tspan><tspan x="4923.5" dy="13.8">of cellular</tspan><tspan x="4923.5" dy="13.8">process</tspan></text></g>
<g id="rccom" class="n"><rect x="5027" y="360" width="122" height="36"/><text y="375.6"><tspan x="5088">regulation of</tspan><tspan x="5088" dy="13.8">cell communication</tspan></text></g>
<g id="prloc" class="n"><rect x="5194" y="360" width="115" height="36"/><text y="375.6"><tspan x="5251.5">positive regulation</tspan><tspan x="5251.5" dy="13.8">of locomotion</tspan></text></g>
<g id="st" class="n"><rect x="5407" y="366" width="118" height="23"/><text x="5466" y="382">signal transduction</text></g>
<g id="rsig" class="n"><rect x="5623" y="360" width="82" height="36"/><text y="375.6"><tspan x="5664">regulation of</tspan><tspan x="5664" dy="13.8">signaling</tspan></text></g>
<g id="ccs" class="n"><rect x="5800" y="366" width="109" height="23"/><text x="5854.5" y="382">cell-cell signaling</text></g>
<g id="prrs" class="n"><rect x="6056" y="353" width="115" height="49"/><text y="368.2"><tspan x="6113.5">positive regulation</tspan><tspan x="6113.5" dy="13.8">of response</tspan><tspan x="6113.5" dy="13.8">to stimulus</tspan></text></g>
<g id="sysd" class="n"><rect x="6308" y="366" width="131" height="23"/><text x="6373.5" y="382">system development</text></g>
<g id="rasm" class="n"><rect x="6535" y="353" width="128" height="49"/><text y="368.2"><tspan x="6599">regulation of</tspan><tspan x="6599" dy="13.8">anatomical structure</tspan><tspan x="6599" dy="13.8">morphogenesis</tspan></text></g>
<g id="cmorph" class="n"><rect x="6708" y="366" width="122" height="23"/><text x="6769" y="382">cell morphogenesis</text></g>
<g id="crcs" class="n"><rect x="6878" y="353" width="107" height="49"/><text y="368.2"><tspan x="6931.5">cellular response</tspan><tspan x="6931.5" dy="13.8">to chemical</tspan><tspan x="6931.5" dy="13.8">stimulus</tspan></text></g>
<g id="ros" class="n"><rect x="7031" y="360" width="116" height="36"/><text y="375.6"><tspan x="7089">response to</tspan><tspan x="7089" dy="13.8">organic substance</tspan></text></g>
<g id="roo" class="n"><rect x="7192" y="360" width="96" height="36"/><text y="375.6"><tspan x="7240">response to</tspan><tspan x="7240" dy="13.8">other organism</tspan></text></g>
<g id="pccmp" class="n"><rect x="16" y="463" width="133" height="50"/><text y="478.7"><tspan x="82.5">phosphate-containing</tspan><tspan x="82.5" dy="13.8">compound metabolic</tspan><tspan x="82.5" dy="13.8">process</tspan></text></g>
<g id="pepmp" class="n"><rect x="195" y="470" width="111" height="37"/><text y="486.1"><tspan x="250.5">peptide metabolic</tspan><tspan x="250.5" dy="13.8">process</tspan></text></g>
<g id="ramp" class="n"><rect x="455" y="463" width="105" height="50"/><text y="478.7"><tspan x="507.5">regulation of</tspan><tspan x="507.5" dy="13.8">amide metabolic</tspan><tspan x="507.5" dy="13.8">process</tspan></text></g>
<g id="oncbp" class="n"><rect x="605" y="463" width="144" height="50"/><text y="478.7"><tspan x="677">organonitrogen</tspan><tspan x="677" dy="13.8">compound biosynthetic</tspan><tspan x="677" dy="13.8">process</tspan></text></g>
<g id="nrncmp" class="n"><rect x="795" y="457" width="130" height="63"/><text y="472.3"><tspan x="860">negative regulation</tspan><tspan x="860" dy="13.8">of nitrogen</tspan><tspan x="860" dy="13.8">compound metabolic</tspan><tspan x="860" dy="13.8">process</tspan></text></g>
<g id="cncbp" class="n"><rect x="971" y="463" width="144" height="50"/><text y="478.7"><tspan x="1043">cellular nitrogen</tspan><tspan x="1043" dy="13.8">compound biosynthetic</tspan><tspan x="1043" dy="13.8">process</tspan></text></g>
<g id="mmod" class="n"><rect x="1160" y="470" width="99" height="37"/><text y="486.1"><tspan x="1209.5">macromolecule</tspan><tspan x="1209.5" dy="13.8">modification</tspan></text></g>
<g id="protmp" class="n"><rect x="1304" y="470" width="109" height="37"/><text y="486.1"><tspan x="1358.5">protein metabolic</tspan><tspan x="1358.5" dy="13.8">process</tspan></text></g>
<g id="gexp" class="n"><rect x="1460" y="477" width="105" height="23"/><text x="1512.5" y="493">gene expression</text></g>
<g id="mbp" class="n"><rect x="1661" y="463" width="99" height="50"/><text y="478.7"><tspan x="1710.5">macromolecule</tspan><tspan x="1710.5" dy="13.8">biosynthetic</tspan><tspan x="1710.5" dy="13.8">process</tspan></text></g>
<g id="rmmp" class="n"><rect x="1857" y="463" width="116" height="50"/><text y="478.7"><tspan x="1915">regulation of</tspan><tspan x="1915" dy="13.8">macromolecule</tspan><tspan x="1915" dy="13.8">metabolic process</tspan></text></g>
<g id="rcbp" class="n"><rect x="2171" y="463" width="125" height="50"/><text y="478.7"><tspan x="2233.5">regulation of</tspan><tspan x="2233.5" dy="13.8">cellular biosynthetic</tspan><tspan x="2233.5" dy="13.8">process</tspan></text></g>
<g id="nrbsp" class="n"><rect x="2343" y="463" width="118" height="50"/><text y="478.7"><tspan x="2402">negative regulation</tspan><tspan x="2402" dy="13.8">of biosynthetic</tspan><tspan x="2402" dy="13.8">process</tspan></text></g>
<g id="nrcmp" class="n"><rect x="2507" y="463" width="118" height="50"/><text y="478.7"><tspan x="2566">negative regulation</tspan><tspan x="2566" dy="13.8">of cellular</tspan><tspan x="2566" dy="13.8">metabolic process</tspan></text></g>
<g id="oo" class="n"><rect x="2722" y="477" width="135" height="23"/><text x="2789.5" y="493">organelle organization</text></g>
<g id="rmcc" class="n"><rect x="3006" y="453" width="103" height="49"/><rect class="hu" x="3006" y="502" width="49.5" height="22"/><rect class="hu" x="3055.5" y="502" width="53.5" height="22"/><text y="468.2"><tspan x="3057.5">regulation of</tspan><tspan x="3057.5" dy="13.8">mitotic cell</tspan><tspan x="3057.5" dy="13.8">cycle</tspan></text><text x="3030.8" y="517.5">Human</text><text x="3082.3" y="517.5">DAPK3</text></g>
<g id="cjo" class="n"><rect x="3154" y="470" width="79" height="37"/><text y="486.1"><tspan x="3193.5">cell junction</tspan><tspan x="3193.5" dy="13.8">organization</tspan></text></g>
<g id="sfo" class="n"><rect x="3278" y="470" width="110" height="37"/><text y="486.1"><tspan x="3333">supramolecular</tspan><tspan x="3333" dy="13.8">fiber organization</tspan></text></g>
<g id="cca" class="n"><rect x="3435" y="470" width="118" height="37"/><text y="486.1"><tspan x="3494">cellular component</tspan><tspan x="3494" dy="13.8">assembly</tspan></text></g>
<g id="rcco" class="n"><rect x="3599" y="463" width="119" height="50"/><text y="478.7"><tspan x="3658.5">regulation of</tspan><tspan x="3658.5" dy="13.8">cellular component</tspan><tspan x="3658.5" dy="13.8">organization</tspan></text></g>
<g id="rccb" class="n"><rect x="3763" y="463" width="118" height="50"/><text y="478.7"><tspan x="3822">regulation of</tspan><tspan x="3822" dy="13.8">cellular component</tspan><tspan x="3822" dy="13.8">biogenesis</tspan></text></g>
<g id="cma" class="n"><rect x="3927" y="470" width="71" height="37"/><text y="486.1"><tspan x="3962.5">cell-matrix</tspan><tspan x="3962.5" dy="13.8">adhesion</tspan></text></g>
<g id="rcsa" class="n"><rect x="4043" y="463" width="88" height="50"/><text y="478.7"><tspan x="4087">regulation of</tspan><tspan x="4087" dy="13.8">cell-substrate</tspan><tspan x="4087" dy="13.8">adhesion</tspan></text></g>
<g id="prcd" class="n"><rect x="4176" y="470" width="115" height="37"/><text y="486.1"><tspan x="4233.5">positive regulation</tspan><tspan x="4233.5" dy="13.8">of cell death</tspan></text></g>
<g id="rpcd" class="n"><rect x="4336" y="463" width="106" height="50"/><text y="478.7"><tspan x="4389">regulation of</tspan><tspan x="4389" dy="13.8">programmed cell</tspan><tspan x="4389" dy="13.8">death</tspan></text></g>
<g id="ap" class="n"><rect x="4540" y="455" width="113" height="24"/><rect class="hu" x="4540" y="479" width="57" height="21.5"/><rect class="hu" x="4597" y="479" width="56" height="21.5"/><rect class="ra" x="4540" y="500.5" width="57" height="21.5"/><rect class="ra" x="4597" y="500.5" width="56" height="21.5"/><text x="4596.5" y="471.5">apoptotic process</text><text x="4568.5" y="494.3">Human</text><text x="4625" y="494.3">DAPK3</text><text x="4568.5" y="515.8">Rat</text><text x="4625" y="515.8">Dapk3</text></g>
<g id="rcmig" class="n"><rect x="4751" y="470" width="87" height="37"/><text y="486.1"><tspan x="4794.5">regulation of</tspan><tspan x="4794.5" dy="13.8">cell migration</tspan></text></g>
<g id="prcmot" class="n"><rect x="4882" y="470" width="115" height="37"/><text y="486.1"><tspan x="4939.5">positive regulation</tspan><tspan x="4939.5" dy="13.8">of cell motility</tspan></text></g>
<g id="prccom" class="n"><rect x="5044" y="470" width="137" height="37"/><text y="486.1"><tspan x="5112.5">positive regulation</tspan><tspan x="5112.5" dy="13.8">of cell communication</tspan></text></g>
<g id="ist" class="n"><rect x="5329" y="438" width="119" height="36"/><rect class="hu" x="5329" y="474" width="60" height="21.7"/><rect class="hu" x="5389" y="474" width="59" height="21.7"/><rect class="mo" x="5329" y="495.7" width="60" height="21.6"/><rect class="mo" x="5389" y="495.7" width="59" height="21.6"/><rect class="ra" x="5329" y="517.3" width="60" height="21.7"/><rect class="ra" x="5389" y="517.3" width="59" height="21.7"/><text y="453.6"><tspan x="5388.5">intracellular</tspan><tspan x="5388.5" dy="13.8">signal transduction</tspan></text><text x="5359" y="489.3">Human</text><text x="5418.5" y="489.3">DAPK3</text><text x="5359" y="511">Mouse</text><text x="5418.5" y="511">Dapk3</text><text x="5359" y="532.7">Rat</text><text x="5418.5" y="532.7">Dapk3</text></g>
<g id="rst" class="n"><rect x="5545" y="470" width="118" height="37"/><text y="486.1"><tspan x="5604">regulation of</tspan><tspan x="5604" dy="13.8">signal transduction</tspan></text></g>
<g id="csrsp" class="n"><rect x="5709" y="463" width="113" height="50"/><text y="478.7"><tspan x="5765.5">cell surface</tspan><tspan x="5765.5" dy="13.8">receptor signaling</tspan><tspan x="5765.5" dy="13.8">pathway</tspan></text></g>
<g id="prsig" class="n"><rect x="5867" y="470" width="114" height="37"/><text y="486.1"><tspan x="5924">positive regulation</tspan><tspan x="5924" dy="13.8">of signaling</tspan></text></g>
<g id="cdiff" class="n"><rect x="6179" y="477" width="111" height="23"/><text x="6234.5" y="493">cell differentiation</text></g>
<g id="nsd" class="n"><rect x="6338" y="470" width="102" height="37"/><text y="486.1"><tspan x="6389">nervous system</tspan><tspan x="6389" dy="13.8">development</tspan></text></g>
<g id="rcm" class="n"><rect x="6538" y="470" width="121" height="37"/><text y="486.1"><tspan x="6598.5">regulation of</tspan><tspan x="6598.5" dy="13.8">cell morphogenesis</tspan></text></g>
<g id="cros" class="n"><rect x="6904" y="470" width="131" height="37"/><text y="486.1"><tspan x="6969.5">cellular response</tspan><tspan x="6969.5" dy="13.8">to organic substance</tspan></text></g>
<g id="rcyt" class="n"><rect x="7081" y="470" width="79" height="37"/><text y="486.1"><tspan x="7120.5">response to</tspan><tspan x="7120.5" dy="13.8">cytokine</tspan></text></g>
<g id="droo" class="n"><rect x="7209" y="470" width="114" height="37"/><text y="486.1"><tspan x="7266">defense response</tspan><tspan x="7266" dy="13.8">to other organism</tspan></text></g>
<g id="phos" class="n"><rect x="66" y="601" width="102" height="23"/><text x="117" y="617">phosphorylation</text></g>
<g id="nramp" class="n"><rect x="448" y="587" width="120" height="50"/><text y="602.7"><tspan x="508">negative regulation</tspan><tspan x="508" dy="13.8">of amide metabolic</tspan><tspan x="508" dy="13.8">process</tspan></text></g>
<g id="abp" class="n"><rect x="776" y="594" width="118" height="37"/><text y="610.1"><tspan x="835">amide biosynthetic</tspan><tspan x="835" dy="13.8">process</tspan></text></g>
<g id="pmod" class="n"><rect x="1038" y="594" width="122" height="37"/><text y="610.1"><tspan x="1099">protein modification</tspan><tspan x="1099" dy="13.8">process</tspan></text></g>
<g id="rgexp" class="n"><rect x="1511" y="594" width="105" height="37"/><text y="610.1"><tspan x="1563.5">regulation of</tspan><tspan x="1563.5" dy="13.8">gene expression</tspan></text></g>
<g id="rprotmp" class="n"><rect x="1661" y="587" width="109" height="50"/><text y="602.7"><tspan x="1715.5">regulation of</tspan><tspan x="1715.5" dy="13.8">protein metabolic</tspan><tspan x="1715.5" dy="13.8">process</tspan></text></g>
<g id="rmbp" class="n"><rect x="1867" y="580" width="98" height="64"/><text y="595.8"><tspan x="1916">regulation of</tspan><tspan x="1916" dy="13.8">macromolecule</tspan><tspan x="1916" dy="13.8">biosynthetic</tspan><tspan x="1916" dy="13.8">process</tspan></text></g>
<g id="nrmmp" class="n"><rect x="2012" y="587" width="119" height="50"/><text y="602.7"><tspan x="2071.5">negative regulation</tspan><tspan x="2071.5" dy="13.8">of macromolecule</tspan><tspan x="2071.5" dy="13.8">metabolic process</tspan></text></g>
<g id="nrcbp" class="n"><rect x="2279" y="580" width="118" height="64"/><text y="595.8"><tspan x="2338">negative regulation</tspan><tspan x="2338" dy="13.8">of cellular</tspan><tspan x="2338" dy="13.8">biosynthetic</tspan><tspan x="2338" dy="13.8">process</tspan></text></g>
<g id="cso" class="n"><rect x="2592" y="594" width="84" height="37"/><text y="610.1"><tspan x="2634">cytoskeleton</tspan><tspan x="2634" dy="13.8">organization</tspan></text></g>
<g id="roo2" class="n"><rect x="2721" y="594" width="136" height="37"/><text y="610.1"><tspan x="2789">regulation of</tspan><tspan x="2789" dy="13.8">organelle organization</tspan></text></g>
<g id="csjo" class="n"><rect x="3203" y="594" width="129" height="37"/><text y="610.1"><tspan x="3267.5">cell-substrate</tspan><tspan x="3267.5" dy="13.8">junction organization</tspan></text></g>
<g id="cja" class="n"><rect x="3377" y="594" width="79" height="37"/><text y="610.1"><tspan x="3416.5">cell junction</tspan><tspan x="3416.5" dy="13.8">assembly</tspan></text></g>
<g id="rsfo" class="n"><rect x="3501" y="587" width="110" height="50"/><text y="602.7"><tspan x="3556">regulation of</tspan><tspan x="3556" dy="13.8">supramolecular</tspan><tspan x="3556" dy="13.8">fiber organization</tspan></text></g>
<g id="rcma" class="n"><rect x="3921" y="587" width="82" height="50"/><text y="602.7"><tspan x="3962">regulation of</tspan><tspan x="3962" dy="13.8">cell-matrix</tspan><tspan x="3962" dy="13.8">adhesion</tspan></text></g>
<g id="prpcd" class="n"><rect x="4335" y="587" width="114" height="50"/><text y="602.7"><tspan x="4392">positive regulation</tspan><tspan x="4392" dy="13.8">of programmed</tspan><tspan x="4392" dy="13.8">cell death</tspan></text></g>
<g id="rap" class="n"><rect x="4503" y="594" width="113" height="37"/><text y="610.1"><tspan x="4559.5">regulation of</tspan><tspan x="4559.5" dy="13.8">apoptotic process</tspan></text></g>
<g id="asp" class="n"><rect x="4717" y="584" width="119" height="36"/><rect class="mo" x="4717" y="620" width="60.4" height="21"/><rect class="mo" x="4777.4" y="620" width="58.6" height="21"/><text y="599.6"><tspan x="4776.5">apoptotic signaling</tspan><tspan x="4776.5" dy="13.8">pathway</tspan></text><text x="4747.2" y="635">Mouse</text><text x="4806.7" y="635">Dapk3</text></g>
<g id="prcmig" class="n"><rect x="4881" y="584" width="116" height="36"/><rect class="mo" x="4881" y="620" width="59" height="21"/><rect class="mo" x="4940" y="620" width="57" height="21"/><text y="599.6"><tspan x="4939">positive regulation</tspan><tspan x="4939" dy="13.8">of cell migration</tspan></text><text x="4910.5" y="635">Mouse</text><text x="4968.5" y="635">Dapk3</text></g>
<g id="prst" class="n"><rect x="5647" y="594" width="134" height="37"/><text y="610.1"><tspan x="5714">positive regulation</tspan><tspan x="5714" dy="13.8">of signal transduction</tspan></text></g>
<g id="csrsp2" class="n"><rect x="5877" y="574" width="112" height="77"/><text y="589.4"><tspan x="5933">cell surface</tspan><tspan x="5933" dy="13.8">receptor signaling</tspan><tspan x="5933" dy="13.8">pathway involved</tspan><tspan x="5933" dy="13.8">in cell-cell</tspan><tspan x="5933" dy="13.8">signaling</tspan></text></g>
<g id="ccsw" class="n"><rect x="6054" y="594" width="109" height="37"/><text y="610.1"><tspan x="6108.5">cell-cell signaling</tspan><tspan x="6108.5" dy="13.8">by wnt</tspan></text></g>
<g id="neurog" class="n"><rect x="6284" y="601" width="87" height="23"/><text x="6327.5" y="617">neurogenesis</text></g>
<g id="rcs" class="n"><rect x="6495" y="584" width="94" height="36"/><rect class="mo" x="6495" y="620" width="49" height="21"/><rect class="mo" x="6544" y="620" width="45" height="21"/><text y="599.6"><tspan x="6542">regulation of</tspan><tspan x="6542" dy="13.8">cell shape</tspan></text><text x="6519.5" y="635">Mouse</text><text x="6566.5" y="635">Dapk3</text></g>
<g id="crcyt" class="n"><rect x="6988" y="587" width="108" height="50"/><text y="602.7"><tspan x="7042">cellular response</tspan><tspan x="7042" dy="13.8">to cytokine</tspan><tspan x="7042" dy="13.8">stimulus</tspan></text></g>
<g id="iir" class="n"><rect x="7218" y="594" width="95" height="37"/><text y="610.1"><tspan x="7265.5">innate immune</tspan><tspan x="7265.5" dy="13.8">response</tspan></text></g>
<g id="pphos" class="n"><rect x="581" y="700" width="146" height="22"/><rect class="hu" x="581" y="722" width="74" height="21.5"/><rect class="hu" x="655" y="722" width="72" height="21.5"/><rect class="mo" x="581" y="743.5" width="74" height="21.5"/><rect class="mo" x="655" y="743.5" width="72" height="21.5"/><text x="654" y="715.5">protein phosphorylation</text><text x="618" y="737.3">Human</text><text x="691" y="737.3">DAPK3</text><text x="618" y="758.8">Mouse</text><text x="691" y="758.8">Dapk3</text></g>
<g id="pepbp" class="n"><rect x="772" y="714" width="127" height="37"/><text y="730.1"><tspan x="835.5">peptide biosynthetic</tspan><tspan x="835.5" dy="13.8">process</tspan></text></g>
<g id="nrgexp" class="n"><rect x="1408" y="714" width="119" height="37"/><text y="730.1"><tspan x="1467.5">negative regulation</tspan><tspan x="1467.5" dy="13.8">of gene expression</tspan></text></g>
<g id="nrprotmp" class="n"><rect x="1575" y="707" width="123" height="50"/><text y="722.7"><tspan x="1636.5">negative regulation</tspan><tspan x="1636.5" dy="13.8">of protein metabolic</tspan><tspan x="1636.5" dy="13.8">process</tspan></text></g>
<g id="nrmbp" class="n"><rect x="1897" y="701" width="119" height="63"/><text y="716.3"><tspan x="1956.5">negative regulation</tspan><tspan x="1956.5" dy="13.8">of macromolecule</tspan><tspan x="1956.5" dy="13.8">biosynthetic</tspan><tspan x="1956.5" dy="13.8">process</tspan></text></g>
<g id="rcso" class="n"><rect x="2662" y="707" width="84" height="50"/><text y="722.7"><tspan x="2704">regulation of</tspan><tspan x="2704" dy="13.8">cytoskeleton</tspan><tspan x="2704" dy="13.8">organization</tspan></text></g>
<g id="aco" class="n"><rect x="2792" y="714" width="116" height="37"/><text y="730.1"><tspan x="2850">actin cytoskeleton</tspan><tspan x="2850" dy="13.8">organization</tspan></text></g>
<g id="csja" class="n"><rect x="3210" y="714" width="115" height="37"/><text y="730.1"><tspan x="3267.5">cell-substrate</tspan><tspan x="3267.5" dy="13.8">junction assembly</tspan></text></g>
<g id="rcsjo" class="n"><rect x="3372" y="707" width="129" height="50"/><text y="722.7"><tspan x="3436.5">regulation of</tspan><tspan x="3436.5" dy="13.8">cell-substrate</tspan><tspan x="3436.5" dy="13.8">junction organization</tspan></text></g>
<g id="rcja" class="n"><rect x="3611" y="707" width="81" height="50"/><text y="722.7"><tspan x="3651.5">regulation of</tspan><tspan x="3651.5" dy="13.8">cell junction</tspan><tspan x="3651.5" dy="13.8">assembly</tspan></text></g>
<g id="prap" class="n"><rect x="4541" y="686" width="116" height="50"/><rect class="hu" x="4541" y="736" width="58.4" height="21.5"/><rect class="hu" x="4599.4" y="736" width="57.6" height="21.5"/><rect class="ra" x="4541" y="757.5" width="58.4" height="21.5"/><rect class="ra" x="4599.4" y="757.5" width="57.6" height="21.5"/><text y="701.7"><tspan x="4599">positive regulation</tspan><tspan x="4599" dy="13.8">of apoptotic</tspan><tspan x="4599" dy="13.8">process</tspan></text><text x="4570.2" y="751.3">Human</text><text x="4628.2" y="751.3">DAPK3</text><text x="4570.2" y="772.8">Rat</text><text x="4628.2" y="772.8">Dapk3</text></g>
<g id="rasp" class="n"><rect x="4796" y="707" width="119" height="50"/><text y="722.7"><tspan x="4855.5">regulation of</tspan><tspan x="4855.5" dy="13.8">apoptotic signaling</tspan><tspan x="4855.5" dy="13.8">pathway</tspan></text></g>
<g id="easp" class="n"><rect x="5039" y="714" width="116" height="37"/><text y="730.1"><tspan x="5097">extrinsic apoptotic</tspan><tspan x="5097" dy="13.8">signaling pathway</tspan></text></g>
<g id="stal" class="n"><rect x="5315" y="707" width="120" height="50"/><text y="722.7"><tspan x="5375">signal transduction</tspan><tspan x="5375" dy="13.8">in absence of</tspan><tspan x="5375" dy="13.8">ligand</tspan></text></g>
<g id="wnt" class="n"><rect x="5767" y="714" width="88" height="37"/><text y="730.1"><tspan x="5811">Wnt signaling</tspan><tspan x="5811" dy="13.8">pathway</tspan></text></g>
<g id="gon" class="n"><rect x="6284" y="714" width="85" height="37"/><text y="730.1"><tspan x="6326.5">generation of</tspan><tspan x="6326.5" dy="13.8">neurons</tspan></text></g>
<g id="rt2i" class="n"><rect x="7092" y="714" width="105" height="37"/><text y="730.1"><tspan x="7144.5">response to</tspan><tspan x="7144.5" dy="13.8">type II interferon</tspan></text></g>
<g id="apph" class="n"><rect x="557" y="831" width="170" height="24"/><rect class="hu" x="557" y="855" width="86" height="21"/><rect class="hu" x="643" y="855" width="84" height="21"/><text x="642" y="847.5">protein autophosphorylation</text><text x="600" y="870">Human</text><text x="685" y="870">DAPK3</text></g>
<g id="trans" class="n"><rect x="1273" y="843" width="71" height="22"/><text x="1308.5" y="858.5">translation</text></g>
<g id="ptrge" class="n"><rect x="1629" y="828" width="121" height="50"/><text y="843.7"><tspan x="1689.5">post-transcriptional</tspan><tspan x="1689.5" dy="13.8">regulation of</tspan><tspan x="1689.5" dy="13.8">gene expression</tspan></text></g>
<g id="mfo" class="n"><rect x="2643" y="835" width="103" height="37"/><text y="851.1"><tspan x="2694.5">myosin filament</tspan><tspan x="2694.5" dy="13.8">organization</tspan></text></g>
<g id="raco" class="n"><rect x="2792" y="828" width="116" height="50"/><text y="843.7"><tspan x="2850">regulation of</tspan><tspan x="2850" dy="13.8">actin cytoskeleton</tspan><tspan x="2850" dy="13.8">organization</tspan></text></g>
<g id="acr" class="n"><rect x="2953" y="835" width="116" height="37"/><text y="851.1"><tspan x="3011">actin cytoskeleton</tspan><tspan x="3011" dy="13.8">reorganization</tspan></text></g>
<g id="faa" class="n"><rect x="3216" y="835" width="94" height="37"/><text y="851.1"><tspan x="3263">focal adhesion</tspan><tspan x="3263" dy="13.8">assembly</tspan></text></g>
<g id="rcsja" class="n"><rect x="3356" y="828" width="115" height="50"/><text y="843.7"><tspan x="3413.5">regulation of</tspan><tspan x="3413.5" dy="13.8">cell-substrate</tspan><tspan x="3413.5" dy="13.8">junction assembly</tspan></text></g>
<g id="prasp" class="n"><rect x="4772" y="828" width="115" height="50"/><text y="843.7"><tspan x="4829.5">positive regulation</tspan><tspan x="4829.5" dy="13.8">of apoptotic</tspan><tspan x="4829.5" dy="13.8">signaling pathway</tspan></text></g>
<g id="reasp" class="n"><rect x="4933" y="828" width="116" height="50"/><text y="843.7"><tspan x="4991">regulation of</tspan><tspan x="4991" dy="13.8">extrinsic apoptotic</tspan><tspan x="4991" dy="13.8">signaling pathway</tspan></text></g>
<g id="easpal" class="n"><rect x="5173" y="822" width="116" height="63"/><text y="837.3"><tspan x="5231">extrinsic apoptotic</tspan><tspan x="5231" dy="13.8">signaling pathway</tspan><tspan x="5231" dy="13.8">in absence of</tspan><tspan x="5231" dy="13.8">ligand</tspan></text></g>
<g id="cwnt" class="n"><rect x="5557" y="835" width="114" height="37"/><text y="851.1"><tspan x="5614">canonical Wnt</tspan><tspan x="5614" dy="13.8">signaling pathway</tspan></text></g>
<g id="rwnt" class="n"><rect x="5716" y="828" width="88" height="50"/><text y="843.7"><tspan x="5760">regulation of</tspan><tspan x="5760" dy="13.8">Wnt signaling</tspan><tspan x="5760" dy="13.8">pathway</tspan></text></g>
<g id="ndiff" class="n"><rect x="6213" y="831" width="133" height="24"/><rect class="ra" x="6213" y="855" width="67" height="21"/><rect class="ra" x="6280" y="855" width="66" height="21"/><text x="6279.5" y="847.5">neuron differentiation</text><text x="6246.5" y="870">Rat</text><text x="6313" y="870">Dapk3</text></g>
<g id="crt2i" class="n"><rect x="7032" y="814" width="121" height="37"/><rect class="hu" x="7032" y="851" width="61.6" height="21"/><rect class="hu" x="7093.6" y="851" width="59.4" height="21"/><rect class="mo" x="7032" y="872" width="61.6" height="21"/><rect class="mo" x="7093.6" y="872" width="59.4" height="21"/><text y="830.1"><tspan x="7092.5">cellular response</tspan><tspan x="7092.5" dy="13.8">to type II interferon</tspan></text><text x="7062.8" y="866">Human</text><text x="7123.3" y="866">DAPK3</text><text x="7062.8" y="887">Mouse</text><text x="7123.3" y="887">Dapk3</text></g>
<g id="m2fo" class="n"><rect x="2664" y="949" width="115" height="36"/><text y="964.6"><tspan x="2721.5">myosin II filament</tspan><tspan x="2721.5" dy="13.8">organization</tspan></text></g>
<g id="racr" class="n"><rect x="2927" y="932" width="116" height="49"/><rect class="hu" x="2927" y="981" width="59" height="22"/><rect class="hu" x="2986" y="981" width="57" height="22"/><text y="947.2"><tspan x="2985">regulation of</tspan><tspan x="2985" dy="13.8">actin cytoskeleton</tspan><tspan x="2985" dy="13.8">reorganization</tspan></text><text x="2956.5" y="996.5">Human</text><text x="3014.5" y="996.5">DAPK3</text></g>
<g id="rfaa" class="n"><rect x="3361" y="932" width="103" height="49"/><rect class="hu" x="3361" y="981" width="52" height="22"/><rect class="hu" x="3413" y="981" width="51" height="22"/><text y="947.2"><tspan x="3412.5">regulation of</tspan><tspan x="3412.5" dy="13.8">focal adhesion</tspan><tspan x="3412.5" dy="13.8">assembly</tspan></text><text x="3387" y="996.5">Human</text><text x="3438.5" y="996.5">DAPK3</text></g>
<g id="rtrans" class="n"><rect x="1648" y="949" width="80" height="36"/><text y="964.6"><tspan x="1688">regulation of</tspan><tspan x="1688" dy="13.8">translation</tspan></text></g>
<g id="preasp" class="n"><rect x="4918" y="936" width="119" height="62"/><text y="950.8"><tspan x="4977.5">positive regulation</tspan><tspan x="4977.5" dy="13.8">of extrinsic</tspan><tspan x="4977.5" dy="13.8">apoptotic signaling</tspan><tspan x="4977.5" dy="13.8">pathway</tspan></text></g>
<g id="reaspal" class="n"><rect x="5082" y="929" width="117" height="77"/><text y="944.4"><tspan x="5140.5">regulation of</tspan><tspan x="5140.5" dy="13.8">extrinsic apoptotic</tspan><tspan x="5140.5" dy="13.8">signaling pathway</tspan><tspan x="5140.5" dy="13.8">in absence of</tspan><tspan x="5140.5" dy="13.8">ligand</tspan></text></g>
<g id="rcwnt" class="n"><rect x="5649" y="942" width="114" height="50"/><text y="957.7"><tspan x="5706">regulation of</tspan><tspan x="5706" dy="13.8">canonical Wnt</tspan><tspan x="5706" dy="13.8">signaling pathway</tspan></text></g>
<g id="prwnt" class="n"><rect x="5808" y="942" width="115" height="50"/><text y="957.7"><tspan x="5865.5">positive regulation</tspan><tspan x="5865.5" dy="13.8">of Wnt signaling</tspan><tspan x="5865.5" dy="13.8">pathway</tspan></text></g>
<g id="nrtrans" class="n"><rect x="1521" y="1061" width="119" height="36"/><rect class="hu" x="1521" y="1097" width="60" height="22"/><rect class="hu" x="1581" y="1097" width="59" height="22"/><text y="1076.6"><tspan x="1580.5">negative regulation</tspan><tspan x="1580.5" dy="13.8">of translation</tspan></text><text x="1551" y="1112.5">Human</text><text x="1610.5" y="1112.5">DAPK3</text></g>
<g id="rm2fo" class="n"><rect x="2792" y="1055" width="116" height="49"/><rect class="mo" x="2792" y="1104" width="58.7" height="21"/><rect class="mo" x="2850.7" y="1104" width="57.3" height="21"/><text y="1070.2"><tspan x="2850">regulation of</tspan><tspan x="2850" dy="13.8">myosin II filament</tspan><tspan x="2850" dy="13.8">organization</tspan></text><text x="2821.4" y="1119">Mouse</text><text x="2879.3" y="1119">Dapk3</text></g>
<g id="preaspal" class="n"><rect x="5077" y="1041" width="127" height="76"/><rect class="ra" x="5077" y="1117" width="63.6" height="22"/><rect class="ra" x="5140.6" y="1117" width="63.4" height="22"/><text y="1055.9"><tspan x="5140.5">positive regulation</tspan><tspan x="5140.5" dy="13.8">of extrinsic</tspan><tspan x="5140.5" dy="13.8">apoptotic signaling</tspan><tspan x="5140.5" dy="13.8">pathway in absence</tspan><tspan x="5140.5" dy="13.8">of ligand</tspan></text><text x="5108.8" y="1132.5">Rat</text><text x="5172.3" y="1132.5">Dapk3</text></g>
<g id="prcwnt" class="n"><rect x="5648" y="1048" width="117" height="63"/><rect class="hu" x="5648" y="1111" width="59" height="21"/><rect class="hu" x="5707" y="1111" width="58" height="21"/><text y="1063.3"><tspan x="5706.5">positive regulation</tspan><tspan x="5706.5" dy="13.8">of canonical</tspan><tspan x="5706.5" dy="13.8">Wnt signaling</tspan><tspan x="5706.5" dy="13.8">pathway</tspan></text><text x="5677.5" y="1126">Human</text><text x="5736" y="1126">DAPK3</text></g>
</svg>
